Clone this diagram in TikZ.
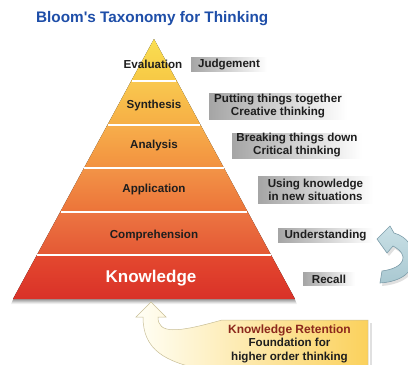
\documentclass[tikz,border=0pt]{standalone}
\usepackage{fontspec}
\setmainfont{Liberation Sans}[Ligatures=TeXOff]
\definecolor{titleblue}{RGB}{30,78,168}
\definecolor{boxgray}{RGB}{165,165,165}
\definecolor{txt}{RGB}{30,30,30}
\definecolor{retred}{RGB}{140,40,28}
\definecolor{ya}{HTML}{FADF52}
\definecolor{yb}{HTML}{F7C845}
\definecolor{sa}{HTML}{F9C84F}
\definecolor{sb}{HTML}{F6AE45}
\definecolor{aa}{HTML}{F7AE4B}
\definecolor{ab}{HTML}{F2913F}
\definecolor{pa}{HTML}{F29447}
\definecolor{pb}{HTML}{EC7339}
\definecolor{ca}{HTML}{EC7542}
\definecolor{cb}{HTML}{E45834}
\definecolor{ka}{HTML}{E4492F}
\definecolor{kb}{HTML}{D93128}
\definecolor{arrblueA}{HTML}{C9E0E6}
\definecolor{arrblueB}{HTML}{A9C8D1}
\definecolor{arrblueD}{HTML}{7D9DAA}
\definecolor{creamA}{HTML}{FFFFF6}
\definecolor{creamB}{HTML}{FBD15C}
\begin{document}
\begin{tikzpicture}[x=1pt,y=-1pt,
  lvl/.style={font=\fontsize{11.6}{13}\selectfont\bfseries, text=txt, inner sep=0pt},
  graybox/.style={left color=boxgray, right color=white, inner sep=0pt, align=center,
     font=\fontsize{11.6}{13}\selectfont\bfseries, text=txt},
  sep/.style={white, line width=1.8pt}]
\useasboundingbox (0,0) rectangle (408,365);
% title
\node[anchor=west, inner sep=0pt, font=\fontsize{15.3}{17}\selectfont\bfseries, text=titleblue] (title) at (36,19) {Bloom's Taxonomy for Thinking};
% shadow of pyramid
\foreach \o/\op in {5/0.06,4/0.08,3/0.10,2/0.12}{
  \fill[black, opacity=\op] (154,39+\o) -- (13-\o*0.4,299+\o) -- (295+\o*0.4,299+\o) -- cycle;
}
% bands
\fill[top color=ya, bottom color=yb] (154,39) -- (131.2,81) -- (176.8,81) -- cycle;
\fill[top color=sa, bottom color=sb] (131.2,81) -- (107.4,125) -- (200.6,125) -- (176.8,81) -- cycle;
\fill[top color=aa, bottom color=ab] (107.4,125) -- (84.0,168) -- (224.0,168) -- (200.6,125) -- cycle;
\fill[top color=pa, bottom color=pb] (84.0,168) -- (60.2,212) -- (247.8,212) -- (224.0,168) -- cycle;
\fill[top color=ca, bottom color=cb] (60.2,212) -- (36.9,255) -- (271.1,255) -- (247.8,212) -- cycle;
\fill[top color=ka, bottom color=kb] (36.9,255) -- (13,299) -- (295,299) -- (271.1,255) -- cycle;
\draw[sep] (131.6,81) -- (176.4,81);
\draw[sep] (107.8,125) -- (200.2,125);
\draw[sep] (84.4,168) -- (223.6,168);
\draw[sep] (60.6,212) -- (247.4,212);
\draw[sep] (37.3,255) -- (270.7,255);
% level labels
\node[lvl] (eval) at (153,64.5) {Evaluation};
\node[lvl] (synth) at (154,105.5) {Synthesis};
\node[lvl] (anal) at (154,145.5) {Analysis};
\node[lvl] (appl) at (154,189.5) {Application};
\node[lvl] (comp) at (154,235.5) {Comprehension};
\node[inner sep=0pt, font=\fontsize{17}{19}\selectfont\bfseries, text=white] (know) at (151,278) {Knowledge};
% gray boxes
\node[graybox, minimum width=76pt, minimum height=14pt] (judg) at (229,64.5) {Judgement};
\node[graybox, minimum width=138pt, minimum height=26pt] (putt) at (278,106) {Putting things together\\Creative thinking};
\node[graybox, minimum width=130pt, minimum height=25pt] (brk) at (297,145.5) {Breaking things down\\Critical thinking};
\node[graybox, minimum width=115pt, minimum height=27pt] (using) at (315.5,189.5) {Using knowledge\\in new situations};
\node[graybox, minimum width=95pt, minimum height=14pt] (und) at (325.5,235.5) {Understanding};
\node[graybox, minimum width=52pt, minimum height=13pt] (rec) at (329,279) {Recall};
% arrows
\begin{scope}
\clip (0,0) rectangle (408,365);
% blue cycle arrow
\fill[black, opacity=0.12] (379,242) -- (392,229) -- (396,236)
   .. controls (422,243) and (428,282) .. (382,286) -- (384,274)
   .. controls (407,271) and (412,258) .. (395,249) -- (389,256) -- cycle;
\path[draw=arrblueD, line width=0.6pt, top color=arrblueA, bottom color=arrblueB]
   (377,239) -- (390,226) -- (394,233)
   .. controls (420,240) and (426,280) .. (380,283) -- (382,271)
   .. controls (405,268) and (410,255) .. (393,246) -- (387,253) -- cycle;
% cream arrow + callout box
\fill[black, opacity=0.12] (370,323) rectangle (372,370);
\path[draw={rgb,255:red,200;green,190;blue,150}, line width=0.5pt, left color=creamA, right color=creamB]
   (151,302) -- (166,317) -- (158,317)
   .. controls (158,334) and (176,333) .. (222,320) -- (368,320) -- (368,370) -- (205,370)
   .. controls (165,362) and (143,350) .. (143,317) -- (136,317) -- cycle;
\end{scope}
\node[inner sep=0pt, font=\fontsize{12}{13}\selectfont\bfseries, text=retred] (ret) at (289.5,330) {Knowledge Retention};
\node[inner sep=0pt, align=center, font=\fontsize{11.6}{13.5}\selectfont\bfseries, text=txt, anchor=north] (found) at (289.5,338) {Foundation for\\higher order thinking};
\end{tikzpicture}
\end{document}
